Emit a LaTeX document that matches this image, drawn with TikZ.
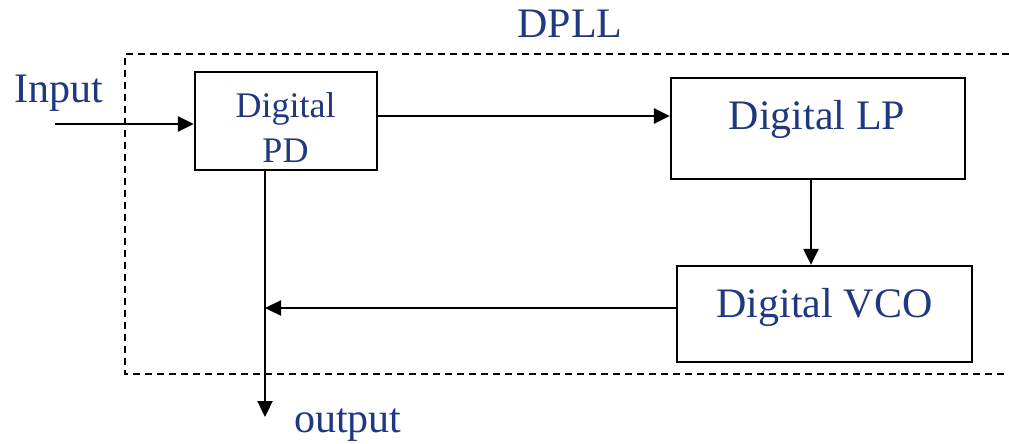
\documentclass[tikz,border=0pt]{standalone}
\usepackage{fontspec}
\setmainfont{Liberation Serif}
\usetikzlibrary{arrows.meta,calc}
\definecolor{txtblue}{RGB}{32,56,128}
\begin{document}
\begin{tikzpicture}[x=1pt,y=-1pt,
  blk/.style={draw=black,line width=2.3pt,rectangle,inner sep=0pt},
  lbl/.style={text=txtblue,inner sep=0pt,anchor=base,font=\fontsize{42}{48}\selectfont},
  small/.style={text=txtblue,inner sep=0pt,anchor=base,font=\fontsize{36}{42}\selectfont},
  arr/.style={line width=2.3pt,-{Triangle[length=16pt,width=15pt]}},
  frame/.style={line width=2.2pt,dash pattern=on 7pt off 5pt}]
\useasboundingbox (0,0) rectangle (1009,444);
% dashed DPLL frame (runs off the right edge)
\draw[frame] (1009,54) -- (125,54) -- (125,374) -- (1009,374);
\node[lbl] (dpll) at (570,38) {DPLL};
% blocks
\node[blk,minimum width=182pt,minimum height=98pt] (pd) at (286,121) {};
\node[blk,minimum width=294pt,minimum height=101pt] (lp) at (818,128.5) {};
\node[blk,minimum width=295pt,minimum height=96pt] (vco) at (824.5,314) {};
% block texts
\node[small] (pdt1) at (285.5,117) {Digital};
\node[small] (pdt2) at (285.5,162) {PD};
\node[lbl] (lpt) at (817,129) {Digital LP};
\node[lbl] (vcot) at (824.5,317) {Digital VCO};
% outside labels
\node[lbl,anchor=base west] (inp) at (14,102) {Input};
\node[lbl,anchor=base west] (outp) at (294,432) {output};
% helper coordinates
\coordinate (in) at (55,124);
\coordinate (y1) at (0,116);
\coordinate (xv) at (811,0);
\coordinate (yf) at (0,308);
\coordinate (j) at (265,308);
\coordinate (oe) at (265,417);
% connectors
\draw[arr] (in) -- (in -| pd.west);
\draw[arr] (pd.east |- y1) -- (lp.west |- y1);
\draw[arr] (lp.south -| xv) -- (vco.north -| xv);
\draw[arr] (vco.west |- yf) -- (j);
\draw[arr] (pd.south -| j) -- (oe);
\end{tikzpicture}
\end{document}
